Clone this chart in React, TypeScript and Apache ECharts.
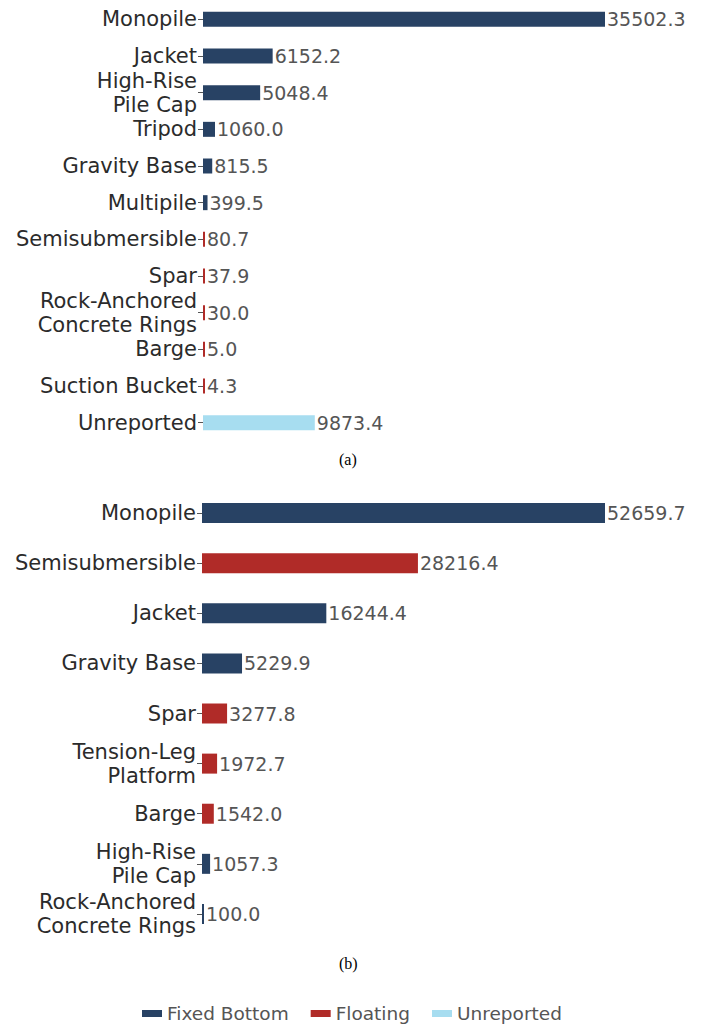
import React, { useEffect, useRef } from "react";
import * as echarts from "echarts";

const catsA = ["Monopile", "Jacket", "High-Rise\nPile Cap", "Tripod", "Gravity Base", "Multipile", "Semisubmersible", "Spar", "Rock-Anchored\nConcrete Rings", "Barge", "Suction Bucket", "Unreported"];
const valsA = [35502.3, 6152.2, 5048.4, 1060.0, 815.5, 399.5, 80.7, 37.9, 30.0, 5.0, 4.3, 9873.4];
const typesA = ["Fixed Bottom", "Fixed Bottom", "Fixed Bottom", "Fixed Bottom", "Fixed Bottom", "Fixed Bottom", "Floating", "Floating", "Floating", "Floating", "Floating", "Unreported"];

const catsB = ["Monopile", "Semisubmersible", "Jacket", "Gravity Base", "Spar", "Tension-Leg\nPlatform", "Barge", "High-Rise\nPile Cap", "Rock-Anchored\nConcrete Rings"];
const valsB = [52659.7, 28216.4, 16244.4, 5229.9, 3277.8, 1972.7, 1542.0, 1057.3, 100.0];
const typesB = ["Fixed Bottom", "Floating", "Fixed Bottom", "Fixed Bottom", "Floating", "Floating", "Floating", "Fixed Bottom", "Fixed Bottom"];

const typeNames = ["Fixed Bottom", "Floating", "Unreported"];
const typeColors: Record<string, string> = {
  "Fixed Bottom": "#284264",
  Floating: "#b02b28",
  Unreported: "#a7ddf0",
};

export default function App() {
  const ref = useRef<HTMLDivElement>(null);
  useEffect(() => {
    if (!ref.current) return;
    const chart = echarts.init(ref.current, null, { renderer: "svg" });
    const font = "DejaVu Sans";
    const mkY = (cats: string[], gi: number) => ({
      type: "category",
      gridIndex: gi,
      data: cats,
      inverse: true,
      axisLine: { show: false },
      axisTick: { show: true, alignWithLabel: true, length: 5, lineStyle: { color: "#555", width: 1 } },
      axisLabel: { fontFamily: font, fontSize: 21, lineHeight: 24, color: "#2b2b2b", margin: 6, align: "right" },
    });
    const mkX = (gi: number) => ({
      type: "value",
      gridIndex: gi,
      min: 0,
      max: "dataMax",
      show: false,
      splitLine: { show: false },
    });
    const series: any[] = [];
    const charts = [
      { vals: valsA, types: typesA, gi: 0, bw: 15 },
      { vals: valsB, types: typesB, gi: 1, bw: 20 },
    ];
    charts.forEach((c) => {
      typeNames.forEach((t) => {
        const data = c.vals.map((v, i) => (c.types[i] === t ? v : "-"));
        if (data.every((d) => d === "-")) return;
        series.push({
          type: "bar",
          name: t,
          xAxisIndex: c.gi,
          yAxisIndex: c.gi,
          stack: "s" + c.gi,
          data,
          barWidth: c.bw,
          barMinHeight: 2,
          itemStyle: { color: typeColors[t] },
          label: {
            show: true,
            position: "right",
            distance: 2,
            fontFamily: font,
            fontSize: 19,
            color: "#555",
            formatter: (p: any) => Number(p.value).toFixed(1),
          },
        });
      });
    });
    chart.setOption({
      animation: false,
      grid: [
        { left: 203, right: 98, top: 1, height: 440 },
        { left: 202, right: 98, top: 488, height: 451 },
      ],
      xAxis: [mkX(0), mkX(1)],
      yAxis: [mkY(catsA, 0), mkY(catsB, 1)],
      legend: {
        data: typeNames,
        left: 142,
        top: 1004,
        padding: 0,
        icon: "rect",
        itemWidth: 20,
        itemHeight: 7,
        itemGap: 22,
        textStyle: { fontFamily: font, fontSize: 18.5, color: "#555" },
      },
      graphic: [
        { type: "text", left: 339, top: 451, style: { text: "(a)", font: "16px 'Liberation Serif'", fill: "#000" } },
        { type: "text", left: 339, top: 955, style: { text: "(b)", font: "16px 'Liberation Serif'", fill: "#000" } },
      ],
      series,
    });
    return () => chart.dispose();
  }, []);
  return <div ref={ref} style={{ position: "absolute", left: 0, top: 0, width: 703, height: 1028, background: "#fff" }} />;
}
